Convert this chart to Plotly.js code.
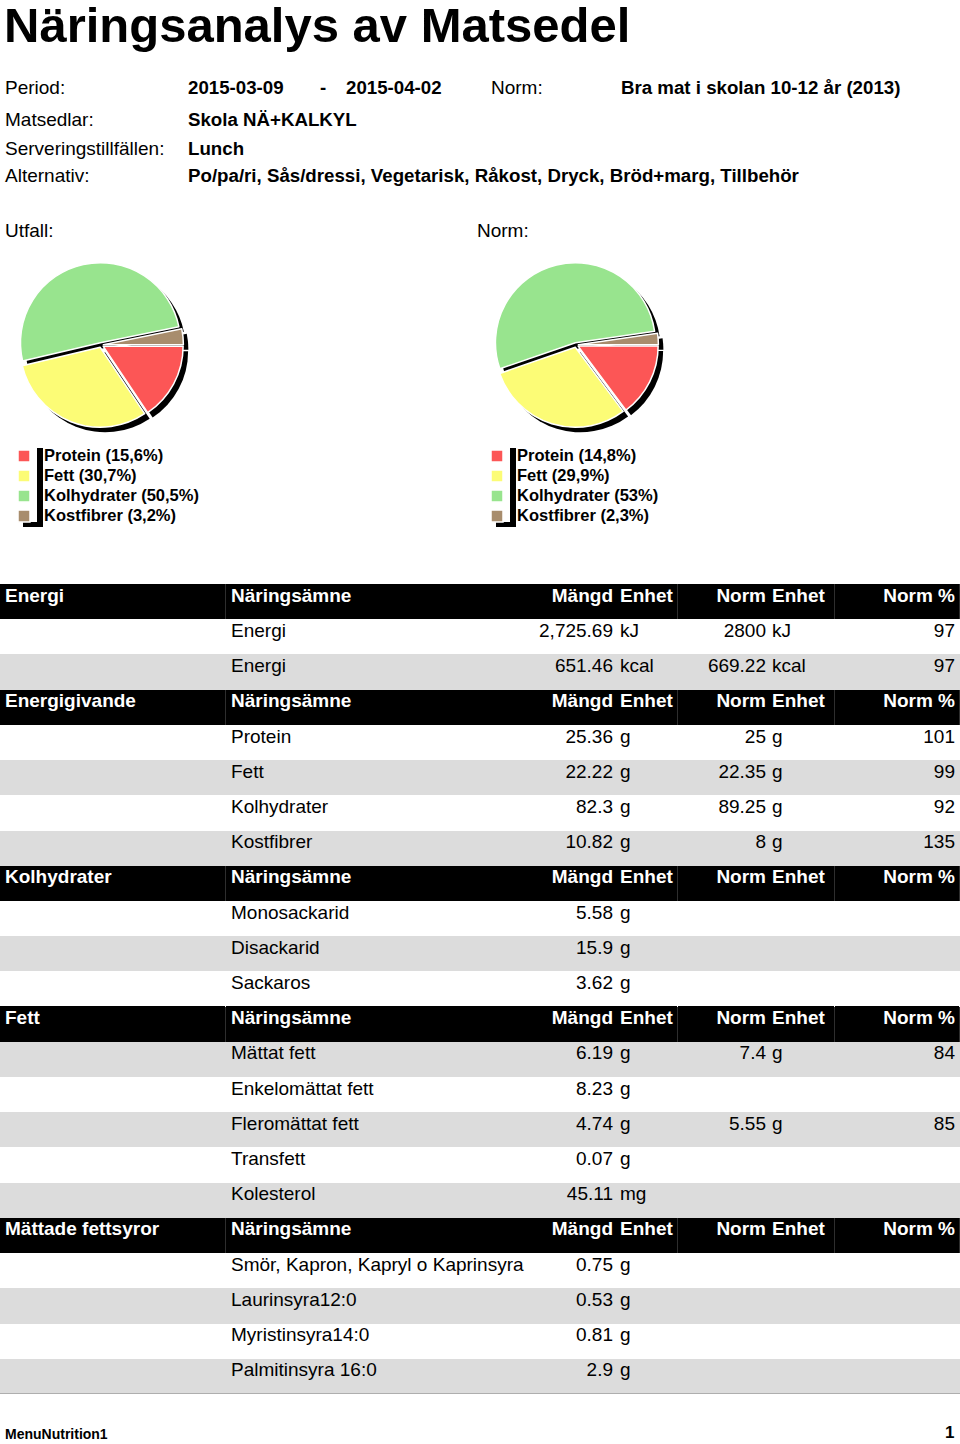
<!DOCTYPE html>
<html>
<head>
<meta charset="utf-8">
<script src="https://cdn.plot.ly/plotly-3.0.1.min.js"></script>
<style>
body { margin: 0; background: #fff; }
#chart { width: 960px; height: 1444px; }
</style>
</head>
<body>
<div id="chart"></div>
<script>
"use strict";

var W = 960, H = 1444;
var FONT = "Liberation Sans, Arial, sans-serif";

// rapportens huvud
var reportTitle = "Näringsanalys av Matsedel";
var infoLabels = ["Period:", "Matsedlar:", "Serveringstillfällen:", "Alternativ:"];
var infoValues = ["2015-03-09", "Skola NÄ+KALKYL", "Lunch", "Po/pa/ri, Sås/dressi, Vegetarisk, Råkost, Dryck, Bröd+marg, Tillbehör"];
var periodEnd = "2015-04-02";
var normName = "Bra mat i skolan 10-12 år (2013)";

// energifördelning (%)
var pieLabels = ["Protein", "Fett", "Kolhydrater", "Kostfibrer"];
var pieColors = ["#fc5656", "#fcfc76", "#98e48e", "#a88d6d"];
var utfallPct = [15.6, 30.7, 50.5, 3.2];
var normPct = [14.8, 29.9, 53, 2.3];

// tabell
var groupNames = ["Energi", "Energigivande", "Kolhydrater", "Fett", "Mättade fettsyror"];
var rowGroup = [0, 0, 1, 1, 1, 1, 2, 2, 2, 3, 3, 3, 3, 3, 4, 4, 4, 4];
var nutrients = ["Energi", "Energi", "Protein", "Fett", "Kolhydrater", "Kostfibrer",
    "Monosackarid", "Disackarid", "Sackaros",
    "Mättat fett", "Enkelomättat fett", "Fleromättat fett", "Transfett", "Kolesterol",
    "Smör, Kapron, Kapryl o Kaprinsyra", "Laurinsyra12:0", "Myristinsyra14:0", "Palmitinsyra 16:0"];
var amounts = [2725.69, 651.46, 25.36, 22.22, 82.3, 10.82, 5.58, 15.9, 3.62,
    6.19, 8.23, 4.74, 0.07, 45.11, 0.75, 0.53, 0.81, 2.9];
var amountUnits = ["kJ", "kcal", "g", "g", "g", "g", "g", "g", "g",
    "g", "g", "g", "g", "mg", "g", "g", "g", "g"];
var norms = [2800, 669.22, 25, 22.35, 89.25, 8, null, null, null,
    7.4, null, 5.55, null, null, null, null, null, null];
var normUnits = ["kJ", "kcal", "g", "g", "g", "g", "", "", "",
    "g", "", "g", "", "", "", "", "", ""];
var normPercent = [97, 97, 101, 99, 92, 135, null, null, null,
    84, null, 85, null, null, null, null, null, null];
var headerTexts = ["Näringsämne", "Mängd", "Enhet", "Norm", "Enhet", "Norm %"];

function fx(x) { return x / W; }
function fy(y) { return 1 - y / H; }
function Bold(s) { return "<b>" + s + "</b>"; }
function pctText(v) { return String(v).replace(".", ","); }

function pieDomain(cx, cy, r) {
    return { x: [fx(cx - r), fx(cx + r)], y: [fy(cy + r), fy(cy - r)] };
}

var PULL = 0.03;
var R = 80 * (1 + PULL);

function MakePie(values, cx, cy, legendId) {
    var shadow = {
        type: "pie",
        values: values,
        labels: pieLabels.map(function (l) { return l + " skugga " + legendId; }),
        marker: { colors: values.map(function () { return "#000"; }) },
        sort: false, direction: "clockwise", rotation: 90,
        pull: PULL, textinfo: "none", hoverinfo: "skip", showlegend: false,
        domain: pieDomain(cx + 5, cy + 5, R)
    };
    var pie = {
        type: "pie",
        values: values,
        labels: pieLabels.map(function (l, i) {
            return "<span style='font-size:16.5px'><b>" + l + " (" + pctText(values[i]) + "%)</b></span>";
        }),
        marker: { colors: pieColors, line: { color: "#fff", width: 1.5 } },
        sort: false, direction: "clockwise", rotation: 90,
        pull: PULL, textinfo: "none", hoverinfo: "skip",
        legend: legendId,
        domain: pieDomain(cx, cy, R)
    };
    return [shadow, pie];
}

// tabellens rader: 0 = vit, 1 = grå, 2 = svart rubrikrad
var rowCodes = [];
var rowTexts = [];
function PushHeader(group) {
    rowCodes.push(2);
    rowTexts.push([Bold(group)].concat(headerTexts.map(Bold)));
}
var dataRow = 0;
for (var i = 0; i < nutrients.length; i++) {
    if (i === 0 || rowGroup[i] !== rowGroup[i - 1]) PushHeader(groupNames[rowGroup[i]]);
    rowCodes.push(dataRow % 2);
    rowTexts.push([
        "",
        nutrients[i],
        amounts[i].toLocaleString("en-US", { maximumFractionDigits: 2 }),
        amountUnits[i],
        norms[i] === null ? "" : String(norms[i]),
        normUnits[i],
        normPercent[i] === null ? "" : String(normPercent[i])
    ]);
    dataRow++;
}
var nRows = rowCodes.length;

var ROW_H = 35.2;
var TABLE_TOP = 584;
var colAnchor = [5, 231, 613, 620, 766, 772, 955];
var colPos = ["middle right", "middle right", "middle left", "middle right", "middle left", "middle right", "middle left"];
var headEdges = [0, 226, 678, 835, 960];

var bandScale = [[0, "#ffffff"], [0.25, "#ffffff"], [0.25, "#dcdcdc"], [0.75, "#dcdcdc"], [0.75, "#000000"], [1, "#000000"]];

var dataBands = {
    type: "heatmap", xaxis: "x", yaxis: "y",
    x0: 480, dx: 960, y0: 0.5, dy: 1,
    z: rowCodes.map(function (c) { return [c === 2 ? null : c]; }),
    zmin: 0, zmax: 2, colorscale: bandScale, showscale: false, hoverinfo: "skip"
};
var headBands = {
    type: "heatmap", xaxis: "x", yaxis: "y",
    x: headEdges, y0: 0.5, dy: 1, xgap: 1,
    z: rowCodes.map(function (c) { return headEdges.slice(1).map(function () { return c === 2 ? 2 : null; }); }),
    zmin: 0, zmax: 2, colorscale: bandScale, showscale: false, hoverinfo: "skip"
};

var textTraces = colAnchor.map(function (ax, c) {
    var xs = [], ys = [], ts = [], cs = [];
    rowTexts.forEach(function (row, r) {
        if (row[c] === "") return;
        xs.push(ax);
        ys.push(r + 0.37);
        ts.push(row[c]);
        cs.push(rowCodes[r] === 2 ? "#fff" : "#000");
    });
    return {
        type: "scatter", mode: "text", xaxis: "x", yaxis: "y",
        x: xs, y: ys, text: ts, textposition: colPos[c],
        textfont: { family: FONT, size: 19, color: cs },
        cliponaxis: false, hoverinfo: "skip", showlegend: false
    };
});

function Text(x, y, text, size, anchor, vanchor) {
    return {
        xref: "paper", yref: "paper", x: fx(x), y: fy(y),
        xanchor: anchor || "left", yanchor: vanchor || "middle",
        showarrow: false, text: text,
        font: { family: FONT, size: size, color: "#000" }
    };
}

var annotations = [Text(2, 25, Bold(reportTitle), 49)];
var infoY = [88, 119, 148, 176];
for (var k = 0; k < infoLabels.length; k++) {
    annotations.push(Text(3, infoY[k], infoLabels[k], 19));
    annotations.push(Text(186, infoY[k], Bold(infoValues[k]), 18.7));
}
annotations.push(Text(318, 88, Bold("-"), 18.7));
annotations.push(Text(344, 88, Bold(periodEnd), 18.7));
annotations.push(Text(489, 88, "Norm:", 19));
annotations.push(Text(619, 88, Bold(normName), 18.7));
annotations.push(Text(3, 230, "Utfall:", 19));
annotations.push(Text(475, 230, "Norm:", 19));
annotations.push(Text(3, 1444, Bold("MenuNutrition1"), 14, "left", "bottom"));
annotations.push(Text(956, 1444, Bold("1"), 17, "right", "bottom"));

function LegendShadow(x0) {
    return [
        { type: "rect", xref: "paper", yref: "paper", x0: fx(x0 + 15), x1: fx(x0 + 21), y0: fy(527), y1: fy(448), fillcolor: "#000", line: { width: 0 } },
        { type: "rect", xref: "paper", yref: "paper", x0: fx(x0 + 1), x1: fx(x0 + 21), y0: fy(527), y1: fy(522), fillcolor: "#000", line: { width: 0 } }
    ];
}

function LegendBox(x) {
    return {
        x: fx(x), y: fy(441), xanchor: "left", yanchor: "top",
        bgcolor: "rgba(0,0,0,0)", borderwidth: 0,
        font: { family: FONT, size: 13.1, color: "#000" },
        itemclick: false, itemdoubleclick: false
    };
}

var data = MakePie(utfallPct, 101, 345, "legend")
    .concat(MakePie(normPct, 576, 345, "legend2"))
    .concat([dataBands, headBands])
    .concat(textTraces);

var layout = {
    width: W, height: H,
    margin: { l: 0, r: 0, t: 0, b: 0 },
    paper_bgcolor: "#fff",
    plot_bgcolor: "#2e2e2e",
    showlegend: true,
    hovermode: false,
    xaxis: { domain: [0, 1], range: [0, 960], visible: false, fixedrange: true },
    yaxis: { domain: [fy(TABLE_TOP + nRows * ROW_H), fy(TABLE_TOP)], range: [nRows, 0], visible: false, fixedrange: true },
    legend: LegendBox(4),
    legend2: LegendBox(477),
    annotations: annotations,
    shapes: LegendShadow(22).concat(LegendShadow(495))
};

Plotly.newPlot("chart", data, layout, { displayModeBar: false, staticPlot: true });
</script>
</body>
</html>
